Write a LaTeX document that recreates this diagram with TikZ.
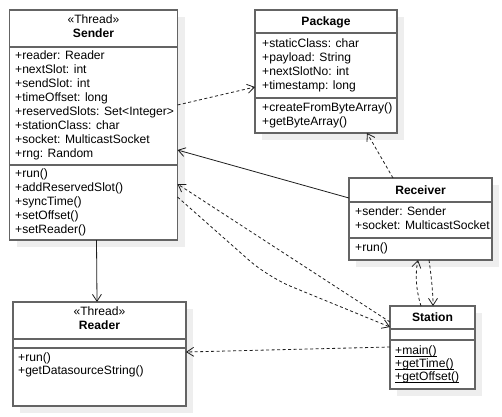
\documentclass[tikz,border=0pt]{standalone}
\usepackage{fontspec}
\setmainfont{Liberation Sans}
\usetikzlibrary{arrows.meta,calc,shadows}
\definecolor{boxline}{RGB}{100,100,100}
\definecolor{shade}{RGB}{238,238,238}
\definecolor{conn}{RGB}{30,30,30}
\tikzset{
  umlbox/.style={draw=boxline, line width=1.3pt, fill=white, inner sep=0pt, outer sep=0pt,
    drop shadow={shadow xshift=7pt, shadow yshift=-7pt, opacity=1, fill=shade}},
  sepline/.style={draw=boxline, line width=1.3pt},
  member/.style={anchor=mid west, inner sep=0pt, font=\fontsize{12.1}{13}\selectfont},
  title/.style={anchor=mid, inner sep=0pt, font=\fontsize{12.1}{13}\selectfont\bfseries},
  stereo/.style={anchor=mid, inner sep=0pt, font=\fontsize{12.1}{13}\selectfont},
  assoc/.style={draw=conn, line width=0.8pt, -{Straight Barb[length=7pt,width=9pt]}},
  depend/.style={draw=conn, line width=0.8pt, dash pattern=on 3pt off 2.5pt, -{Straight Barb[length=7pt,width=9pt]}},
}
\newcommand{\memb}[4]{\node[member] (#1) at (#2,#3) {#4};}
\newcommand{\ulmemb}[1]{\setbox0\hbox{#1}\rlap{\rule[-1.6pt]{\wd0}{0.7pt}}\box0}
\begin{document}
\begin{tikzpicture}[x=1pt,y=-1pt]
\useasboundingbox (0,0) rectangle (502,416);
\fill[white] (0,0) rectangle (502,416);

% boxes
\node[umlbox, minimum width=168pt, minimum height=230pt] (sender) at (93.5,125) {};
\node[umlbox, minimum width=142pt, minimum height=123pt] (package) at (326,71.5) {};
\node[umlbox, minimum width=143pt, minimum height=82pt] (receiver) at (420.5,219) {};
\node[umlbox, minimum width=85pt, minimum height=83pt] (station) at (432.5,347.5) {};
\node[umlbox, minimum width=173pt, minimum height=104pt] (reader) at (99.5,354) {};

% separators
\draw[sepline] ($(sender.north west)+(0,37)$) -- ($(sender.north east)+(0,37)$);
\draw[sepline] ($(sender.north west)+(0,155)$) -- ($(sender.north east)+(0,155)$);
\draw[sepline] ($(package.north west)+(0,23)$) -- ($(package.north east)+(0,23)$);
\draw[sepline] ($(package.north west)+(0,88)$) -- ($(package.north east)+(0,88)$);
\draw[sepline] ($(receiver.north west)+(0,24)$) -- ($(receiver.north east)+(0,24)$);
\draw[sepline] ($(receiver.north west)+(0,60)$) -- ($(receiver.north east)+(0,60)$);
\draw[sepline] ($(station.north west)+(0,23)$) -- ($(station.north east)+(0,23)$);
\draw[sepline] ($(station.north west)+(0,34)$) -- ($(station.north east)+(0,34)$);
\draw[sepline] ($(reader.north west)+(0,37)$) -- ($(reader.north east)+(0,37)$);
\draw[sepline] ($(reader.north west)+(0,46)$) -- ($(reader.north east)+(0,46)$);

% Sender text
\node[stereo] (sst) at (93.5,21) {«Thread»};
\node[title] (stt) at (93.5,35) {Sender};
\memb{s1}{15}{57}{+reader: Reader}
\memb{s2}{15}{71}{+nextSlot: int}
\memb{s3}{15}{85}{+sendSlot: int}
\memb{s4}{15}{99}{+timeOffset: long}
\memb{s5}{15}{113}{+reservedSlots: Set<Integer>}
\memb{s6}{15}{127}{+stationClass: char}
\memb{s7}{15}{141}{+socket: MulticastSocket}
\memb{s8}{15}{155}{+rng: Random}
\memb{sm1}{15}{175}{+run()}
\memb{sm2}{15}{189}{+addReservedSlot()}
\memb{sm3}{15}{203}{+syncTime()}
\memb{sm4}{15}{217}{+setOffset()}
\memb{sm5}{15}{231}{+setReader()}

% Package text
\node[title] (ptt) at (326,23) {Package};
\memb{p1}{262}{45}{+staticClass: char}
\memb{p2}{262}{59}{+payload: String}
\memb{p3}{262}{73}{+nextSlotNo: int}
\memb{p4}{262}{87}{+timestamp: long}
\memb{pm1}{262}{109}{+createFromByteArray()}
\memb{pm2}{262}{123}{+getByteArray()}

% Receiver text
\node[title] (rtt) at (420.5,192) {Receiver};
\memb{r1}{355}{213}{+sender: Sender}
\memb{r2}{355}{227}{+socket: MulticastSocket}
\memb{rm1}{355}{249}{+run()}

% Station text
\node[title] (stat) at (432.5,319) {Station};
\memb{st1}{395}{352}{\ulmemb{+main()}}
\memb{st2}{395}{365}{\ulmemb{+getTime()}}
\memb{st3}{395}{378}{\ulmemb{+getOffset()}}

% Reader text
\node[stereo] (rst) at (99.5,313) {«Thread»};
\node[title] (rtt2) at (99.5,327) {Reader};
\memb{rd1}{18}{359}{+run()}
\memb{rd2}{18}{372}{+getDatasourceString()}

% connectors
\draw[assoc] ($(sender.south west)+(87,0)$) -- ($(reader.north west)+(84,0)$);
\draw[depend] ($(sender.north east)+(0,95)$) -- ($(package.north west)+(0,77)$);
\draw[assoc] ($(receiver.north west)+(0,20)$) -- ($(sender.north east)+(0,140)$);
\draw[depend] ($(receiver.north west)+(44,0)$) -- ($(package.south west)+(112,0)$);
\draw[depend] ($(station.north west)+(0,16)$) -- ($(sender.north east)+(0,174)$);
\coordinate (bendB) at (268,277);
\draw[depend, rounded corners=25pt] ($(sender.north east)+(0,187)$) -- (bendB) -- ($(station.north west)+(0,21)$);
\draw[depend] ($(station.north west)+(0,41)$) -- ($(reader.north east)+(0,50)$);
\draw[depend] ($(station.north west)+(31,0)$) .. controls ($(station.north west)+(26,-16)$) and ($(receiver.south west)+(66,14)$) .. ($(receiver.south west)+(69,0)$);
\draw[depend] ($(receiver.south west)+(80,0)$) .. controls ($(receiver.south west)+(82,14)$) and ($(station.north west)+(43,-14)$) .. ($(station.north west)+(43,0)$);
\end{tikzpicture}
\end{document}
